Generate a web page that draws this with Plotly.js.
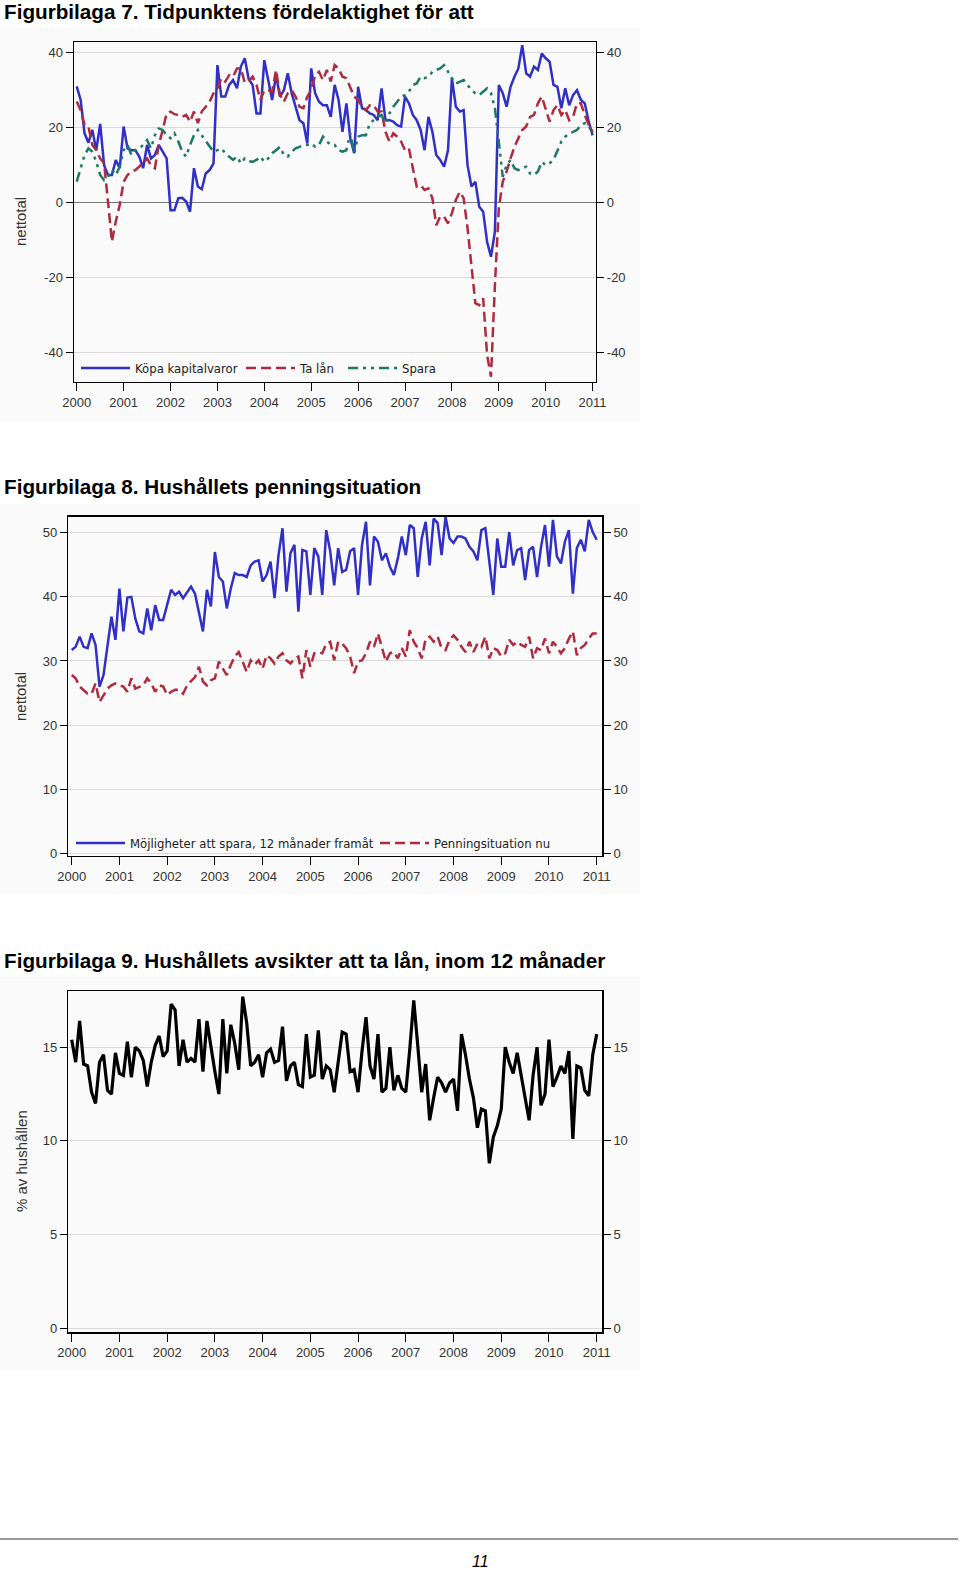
<!DOCTYPE html>
<html><head><meta charset="utf-8">
<script src="https://cdn.plot.ly/plotly-3.0.1.min.js"></script>
<style>html,body{margin:0;padding:0;background:#fff}#chart{width:960px;height:1572px}</style>
</head><body><div id="chart"></div>
<script>
// ---------- DATA ----------
const years = [2000,2001,2002,2003,2004,2005,2006,2007,2008,2009,2010,2011];
const yearLabels = ['2000','2001','2002','2003','2004','2005','2006','2007','2008','2009','2010','2011'];
const startYear = 2000; // monthly series starting January 2000

// Figurbilaga 7 (nettotal)
const kopaKapitalvaror = [31,27.4,18.5,16,19.4,14,21,10,7.4,7.4,11.4,9.2,20.3,14.5,14,14,12.3,9.2,15.4,11.8,12.7,15.4,13.6,11.8,-2,-2,1.2,1.3,0.3,-2.4,9.2,4.3,3.6,7.8,8.7,10.5,36.7,28.3,28.3,31.4,32.7,30.5,36.3,38.5,33,
31.4,23.8,23.8,38,32.3,27.4,34,28.3,30,34.5,29.2,25.6,22,21.2,15.8,35.8,29.2,26.9,26,26,22.9,31.4,27.4,18.9,26.5,17.2,13.2,30.9,25.2,24.7,23.8,23.4,22,30.5,22,22,21.6,20.7,20.3,28.3,26.5,23.4,22,19.4,14,22.9,
18.9,12.7,11.4,9.6,14,33.2,25.6,24.3,24.7,10,4.3,5.6,-1.1,-2.4,-10.4,-14.4,-7.7,31.4,29.2,25.6,30.9,33.6,35.8,42,34.5,33.6,36.3,35.4,39.8,38.5,37.6,31.4,30.9,25.2,30.5,26,28.7,30,27.4,26.5,21.6,18];
const taLan = [27,24.7,20.7,20.3,15.4,14,11.8,10.5,0.3,-10.4,-5,-0.6,5.6,7.4,8.3,8.7,9.6,10.9,11.8,10,9.2,15.4,19.4,23.8,24.3,23.6,23.4,22.9,23.4,21.6,24.3,21.2,24.3,25.6,26.9,29.2,30.5,33.2,32.3,34,33.6,35.8,35.8,32,32.3,
33.6,31.4,27.4,30,30,29.6,35.4,28.7,26.9,29.2,30,28.3,25.6,25.2,28.3,30,34,34.9,32.7,35.4,32.3,36.7,35.8,33.6,33.2,30.5,28.3,27.4,25.6,24.7,26,26,24.3,24.3,18.9,16.3,18.5,17.6,16.3,14,14.5,9.2,4.3,4.7,3.4,3.8,
1.2,-6,-3.7,-3.7,-5.5,-2.8,0.7,2.9,1.2,-6.8,-16.6,-26.8,-27.3,-25.5,-40.6,-46.4,-22,-1.5,5.6,8.3,11.8,14.9,17.2,19.4,20.3,22.9,23.4,26.5,28.3,24.7,21.6,24.7,26,23.4,24.7,22,22.9,26.5,26.5,23.4,20.7,18.9];
const spara = [5.6,9.2,12.7,14.5,13.6,10.9,7.4,6,6.9,8.7,7.4,9.6,14,15.4,12.7,14,14.5,15.4,16.7,14.5,18,19.8,19.4,18,17.2,18.5,16.3,13.6,12.3,15.4,18,19.4,18,16.3,14.9,13.6,14,14.5,13.2,12.3,11.4,12.3,10.5,11.8,11.1,
10.9,11.4,12.3,10.9,11.8,13.2,14,14.9,12.7,12.3,13.6,14.5,14.9,15.4,15.4,15.8,14.9,15.4,17.6,16.3,15.4,15.4,14,13.6,14,18.5,13.2,17.6,18,18,21.2,22,22.9,23.4,21.2,23.8,25.6,26.9,28.3,28.7,29.6,31.4,31.8,33.6,33.2,33.6,
34.9,35.4,35.8,36.7,34.9,33.2,31.8,32.3,32.7,31.4,30,29.2,28.7,29.6,30.5,29.2,25.2,16.3,6.9,10,11.4,9.2,8.7,9.2,9.6,7.8,7.4,8.3,10.9,10,10.5,11.4,14,16.3,17.6,18.5,18.9,19.4,20.7,21.2,20.7,18];

// Figurbilaga 8 (nettotal)
const mojligheterSpara = [31.7,32.2,33.8,32.2,32,34.3,32.5,26,27.8,32.5,36.9,33.3,41.3,34.6,39.9,40,36.6,34.6,34.3,38.2,34.8,38.7,36.4,36.4,39,41.1,40.3,40.8,39.8,40.8,41.6,40.5,37.4,34.6,41.1,38.5,47,43.1,42.4,38.2,41.3,43.7,43.4,43.4,
43.1,44.9,45.5,45.7,42.4,43.4,45.5,39.8,46.5,50.7,40.8,46.8,48.1,37.7,47.3,47.1,40.3,47.6,46.3,40.3,50.4,47.1,41.8,47.6,43.9,44.2,47.1,47.6,40.3,48.1,51.7,41.8,49.4,48.6,45.7,46.8,44.7,43.4,46,49.4,46.5,51.2,50.7,43.1,49.1,
51.7,44.9,52.2,51.5,46.5,52.5,49.1,48.4,49.4,49.4,49.1,47.8,47.1,45.7,50.4,50.7,45.2,40.3,49.1,44.7,44.7,50.1,44.9,47.3,47.6,42.6,47.3,47.8,43.1,47.8,51.2,44.7,52,46.3,45.2,48.6,50.4,40.5,47.6,48.9,47.1,52,50.1,48.9];
const penningsituationNu = [27.8,27.3,26,25.5,24.9,24.9,26.5,23.6,24.7,25.7,26.2,26.5,26.2,26,25.2,27.3,25.7,26,26.2,27.3,26.5,25.2,26.2,26,24.7,25.2,25.5,25.5,24.9,26.2,26.8,27.5,29.1,26.8,26.2,27,27.3,29.9,28.8,27.8,29.4,30.7,31.4,29.9,
28.3,30.1,29.4,30.1,28.8,30.9,30.4,29.6,30.7,31.2,30.1,29.6,30.4,30.7,27.3,31.7,29.1,31.2,31.4,31.2,32.7,33,30.1,33,32.7,32,30.7,28.1,29.9,30.1,31.2,33,32.2,34.3,32,29.9,31.2,31.4,30.4,32,30.7,34.8,33,32,30.4,
33.5,33.8,33,33.8,32,31.7,33.3,34,33.3,32.2,31.4,33,31.4,32.7,32.2,33.8,30.4,32,31.7,30.7,31.2,33.3,32.5,33,32.5,32.2,33.8,30.4,32,31.7,33.5,31.2,33,32.2,31.2,32,33.5,34.6,30.9,32,32.5,33.5,34.3,34.3];

// Figurbilaga 9 (% av hushållen)
const avsikterTaLan = [15.4,14.2,16.4,14.1,14,12.6,12,14.2,14.6,12.7,12.5,14.7,13.6,13.5,15.3,13.4,15,14.8,14.3,12.9,14.2,15.1,15.6,14.5,14.8,17.3,17,14,15.4,14.2,14.4,14.2,16.5,13.7,16.4,15,13.7,12.5,16.5,13.6,16.2,15.2,13.8,17.7,
16.3,14,14.2,14.6,13.4,14.7,14.9,14.2,14.3,16.1,13.2,14,14.2,13,12.9,15.7,13.4,13.5,15.9,13.3,14,13.8,12.6,14.2,15.8,15.7,13.7,13.8,12.6,14.8,16.6,14,13.3,15.7,12.6,12.8,15,12.7,13.5,12.8,12.6,14.9,17.5,15.1,12.6,
14.1,11.1,12.3,13.4,13.1,12.6,13.1,13.3,11.6,15.7,14.6,13.3,12.3,10.7,11.7,11.6,8.8,10.2,10.8,11.7,15,14.2,13.6,14.7,13.5,12.3,11.1,13.5,15,11.9,12.5,15.4,12.9,13.4,14,13.6,14.8,10.1,14,13.9,12.7,12.4,14.6,15.7];

const ticks1 = [-40,-20,0,20,40];
const ticks2 = [0,10,20,30,40,50];
const ticks3 = [0,5,10,15];

// ---------- LAYOUT HELPERS ----------
const W = 960, H = 1572;
const fx = p => p / W, fy = p => 1 - p / H;
const FONT = 'Liberation Sans, Arial, sans-serif';
const tickFont = {family: FONT, size: 13, color: '#333'};
const monthsOf = arr => arr.map((_, i) => startYear + i / 12);

const C_BLUE = '#3030c8', C_RED = '#b02a3e', C_GREEN = '#1d7864';

function xAxis(l, r, range, anchor) {
  return {domain: [fx(l), fx(r)], range, anchor, tickmode: 'array', tickvals: years, ticktext: yearLabels,
    ticks: 'outside', ticklen: 8, tickcolor: '#000', tickwidth: 1, showline: true, linecolor: '#000', linewidth: 1.5,
    mirror: true, showgrid: false, zeroline: false, tickfont: tickFont, fixedrange: true};
}
function yAxis(t, b, range, anchor, tv, side, overlay, zero) {
  const a = {domain: [fy(b), fy(t)], range, anchor, tickmode: 'array', tickvals: tv, ticktext: tv.map(String),
    ticks: 'outside', ticklen: 7, tickcolor: '#000', tickwidth: 1, showline: true, linecolor: '#000', linewidth: 1.5,
    side: side, tickfont: tickFont, fixedrange: true, zeroline: false, showgrid: !overlay, gridcolor: '#dadada', gridwidth: 1};
  if (zero) { a.zeroline = true; a.zerolinecolor = '#7a7a7a'; a.zerolinewidth = 1.5; }
  if (overlay) a.overlaying = overlay;
  return a;
}
const legendFont = {family: 'DejaVu Sans, Verdana, sans-serif', size: 11.7, color: '#222'};
function legendAt(lineStartPx, yPx) {
  return {orientation: 'h', x: fx(lineStartPx - 5), y: fy(yPx), xanchor: 'left', yanchor: 'middle', bgcolor: 'rgba(0,0,0,0)',
    font: legendFont, borderwidth: 0, itemwidth: 49, itemclick: false, itemdoubleclick: false};
}

const x1 = monthsOf(kopaKapitalvaror), x2 = monthsOf(mojligheterSpara), x3 = monthsOf(avsikterTaLan);

const traces = [
  {x: x1, y: kopaKapitalvaror, name: 'Köpa kapitalvaror', type: 'scatter', mode: 'lines', xaxis: 'x', yaxis: 'y', legend: 'legend',
   line: {color: C_BLUE, width: 2.5}},
  {x: x1, y: taLan, name: 'Ta lån', type: 'scatter', mode: 'lines', xaxis: 'x', yaxis: 'y', legend: 'legend2',
   line: {color: C_RED, width: 2.5, dash: '10px,5px'}},
  {x: x1, y: spara, name: 'Spara', type: 'scatter', mode: 'lines', xaxis: 'x', yaxis: 'y', legend: 'legend3',
   line: {color: C_GREEN, width: 2.5, dash: '10px,5px,3px,5px,3px,5px'}},
  {x: x1, y: spara, type: 'scatter', mode: 'lines', xaxis: 'x', yaxis: 'y2', showlegend: false, hoverinfo: 'skip',
   line: {width: 0}, opacity: 0},

  {x: x2, y: mojligheterSpara, name: 'Möjligheter att spara, 12 månader framåt', type: 'scatter', mode: 'lines', xaxis: 'x2', yaxis: 'y3', legend: 'legend4',
   line: {color: C_BLUE, width: 2.5}},
  {x: x2, y: penningsituationNu, name: 'Penningsituation nu', type: 'scatter', mode: 'lines', xaxis: 'x2', yaxis: 'y3', legend: 'legend5',
   line: {color: C_RED, width: 2.5, dash: '10px,5px'}},
  {x: x2, y: penningsituationNu, type: 'scatter', mode: 'lines', xaxis: 'x2', yaxis: 'y4', showlegend: false, hoverinfo: 'skip',
   line: {width: 0}, opacity: 0},

  {x: x3, y: avsikterTaLan, name: 'Avsikter att ta lån', type: 'scatter', mode: 'lines', xaxis: 'x3', yaxis: 'y5', showlegend: false,
   line: {color: '#000', width: 3.2}},
  {x: x3, y: avsikterTaLan, type: 'scatter', mode: 'lines', xaxis: 'x3', yaxis: 'y6', showlegend: false, hoverinfo: 'skip',
   line: {width: 0}, opacity: 0}
];

const rX1 = [1999.942, 2011.066], rX2 = [1999.929, 2011.117];
const rY1 = [-47.73, 42.77], rY2 = [-0.37, 52.5], rY3 = [-0.2, 18.0];

const titleFont = {family: FONT, size: 20.7, color: '#000'};
const yTitleFont = {family: FONT, size: 15, color: '#333'};

const layout = {
  width: W, height: H, margin: {l: 0, r: 0, t: 0, b: 0, pad: 0},
  paper_bgcolor: '#fff', plot_bgcolor: '#fff', font: {family: FONT, color: '#333'},
  showlegend: true, hovermode: false,
  xaxis: xAxis(74, 595.7, rX1, 'y'),
  yaxis: yAxis(42.3, 381.7, rY1, 'x', ticks1, 'left', null, true),
  yaxis2: yAxis(42.3, 381.7, rY1, 'x', ticks1, 'right', 'y', false),
  xaxis2: xAxis(68.3, 602.3, rX2, 'y3'),
  yaxis3: yAxis(516.7, 855.7, rY2, 'x2', ticks2, 'left', null, false),
  yaxis4: yAxis(516.7, 855.7, rY2, 'x2', ticks2, 'right', 'y3', false),
  xaxis3: xAxis(68.3, 602.3, rX2, 'y5'),
  yaxis5: yAxis(991, 1332, rY3, 'x3', ticks3, 'left', null, false),
  yaxis6: yAxis(991, 1332, rY3, 'x3', ticks3, 'right', 'y5', false),
  legend: legendAt(81, 368),
  legend2: legendAt(246, 368),
  legend3: legendAt(348, 368),
  legend4: legendAt(76, 843),
  legend5: legendAt(380, 843),
  shapes: [
    {type: 'rect', xref: 'paper', yref: 'paper', x0: 0, x1: fx(640), y0: fy(422), y1: fy(28), fillcolor: '#fafafa', line: {width: 0}, layer: 'below'},
    {type: 'rect', xref: 'paper', yref: 'paper', x0: 0, x1: fx(640), y0: fy(894), y1: fy(504), fillcolor: '#fafafa', line: {width: 0}, layer: 'below'},
    {type: 'rect', xref: 'paper', yref: 'paper', x0: 0, x1: fx(640), y0: fy(1370), y1: fy(977), fillcolor: '#fafafa', line: {width: 0}, layer: 'below'},
    {type: 'line', xref: 'paper', yref: 'paper', x0: 0, x1: fx(958), y0: fy(1539), y1: fy(1539), line: {color: '#999', width: 2}}
  ],
  annotations: [
    {text: '<b>Figurbilaga 7. Tidpunktens fördelaktighet för att</b>', xref: 'paper', yref: 'paper', x: fx(2), y: fy(11), xanchor: 'left', yanchor: 'middle', showarrow: false, font: titleFont},
    {text: '<b>Figurbilaga 8. Hushållets penningsituation</b>', xref: 'paper', yref: 'paper', x: fx(2), y: fy(486), xanchor: 'left', yanchor: 'middle', showarrow: false, font: titleFont},
    {text: '<b>Figurbilaga 9. Hushållets avsikter att ta lån, inom 12 månader</b>', xref: 'paper', yref: 'paper', x: fx(2), y: fy(960), xanchor: 'left', yanchor: 'middle', showarrow: false, font: titleFont},
    {text: 'nettotal', textangle: -90, xref: 'paper', yref: 'paper', x: fx(21), y: fy(222), xanchor: 'center', yanchor: 'middle', showarrow: false, font: yTitleFont},
    {text: 'nettotal', textangle: -90, xref: 'paper', yref: 'paper', x: fx(21), y: fy(697), xanchor: 'center', yanchor: 'middle', showarrow: false, font: yTitleFont},
    {text: '% av hushållen', textangle: -90, xref: 'paper', yref: 'paper', x: fx(21), y: fy(1161), xanchor: 'center', yanchor: 'middle', showarrow: false, font: yTitleFont},
    {text: '<i>11</i>', xref: 'paper', yref: 'paper', x: fx(480), y: fy(1561), xanchor: 'center', yanchor: 'middle', showarrow: false, borderpad: 0, font: {family: FONT, size: 16, color: '#000'}}
  ]
};

Plotly.newPlot('chart', traces, layout, {staticPlot: true, displayModeBar: false});
</script>
</body></html>
